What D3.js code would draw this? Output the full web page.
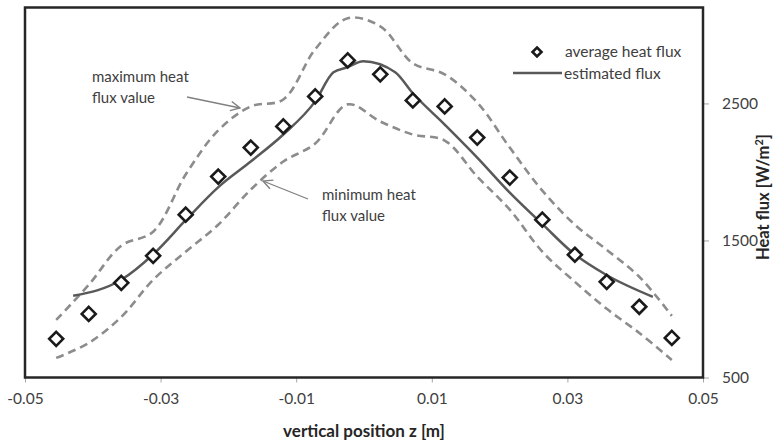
<!DOCTYPE html>
<html>
<head>
<meta charset="utf-8">
<script src="https://cdn.jsdelivr.net/npm/d3@7"></script>
<style>
  body { margin: 0; background: #fff; }
  text { font-family: Lato, "Open Sans", sans-serif; }
</style>
</head>
<body>
<div id="chart"></div>
<script>
// chart data
const positions = [-0.0454, -0.0406, -0.0358, -0.0311, -0.0263, -0.0215, -0.0167, -0.0119, -0.0072, -0.0024,
                   0.0024, 0.0072, 0.0119, 0.0167, 0.0215, 0.0263, 0.0311, 0.0358, 0.0406, 0.0454];
const avgFlux = [782, 964, 1191, 1388, 1688, 1966, 2178, 2332, 2551, 2814,
                 2712, 2522, 2478, 2251, 1959, 1652, 1396, 1198, 1016, 789];
const maxFlux = [920, 1176, 1462, 1564, 1981, 2303, 2478, 2529, 2895, 3122,
                 3063, 2793, 2712, 2507, 2178, 1864, 1615, 1432, 1235, 950];
const minFlux = [643, 752, 942, 1213, 1418, 1615, 1871, 2076, 2207, 2493,
                 2368, 2273, 2229, 1966, 1725, 1418, 1198, 1001, 825, 628];
const estPositions = [-0.0429, -0.0358, -0.0310, -0.0261, -0.0214, -0.0167, -0.0119, -0.0072, -0.0045, -0.0025,
                      -0.0001, 0.0046, 0.0071, 0.0119, 0.0167, 0.0215, 0.0264, 0.0308, 0.0357, 0.0426];
const estFlux = [1096, 1213, 1403, 1659, 1893, 2076, 2273, 2515, 2727, 2763,
                 2807, 2727, 2580, 2346, 2105, 1849, 1615, 1410, 1250, 1089];
const xTicks = [-0.05, -0.03, -0.01, 0.01, 0.03, 0.05];
const yTicks = [500, 1500, 2500];

const width = 775, height = 442;
const plot = {left: 25, right: 703, top: 7.5, bottom: 377.5};

let svg = d3.select("#chart")
    .append("svg")
    .attr("width", width)
    .attr("height", height);

let x = d3.scaleLinear().domain([-0.05, 0.05]).range([plot.left, plot.right]);
let y = d3.scaleLinear().domain([500, 3200]).range([plot.bottom, plot.top]);

// x axis ticks + labels
let xAxis = svg.append("g")
    .attr("transform", `translate(0,${plot.bottom})`)
    .call(d3.axisBottom(x).tickValues(xTicks).tickSize(5).tickFormat(d => d3.format(".2f")(d).replace("−", "-")));
xAxis.select(".domain").remove();
xAxis.selectAll("line").attr("stroke", "#a6a6a6");
xAxis.selectAll("text").attr("font-size", 15.5).attr("fill", "#404040").attr("dy", "1.2em");

// y axis on the right
let yAxis = svg.append("g")
    .attr("transform", `translate(${plot.right},0)`)
    .call(d3.axisRight(y).tickValues(yTicks).tickSize(6).tickPadding(13).tickFormat(d3.format("d")));
yAxis.select(".domain").remove();
yAxis.selectAll("line").attr("stroke", "#a6a6a6");
yAxis.selectAll("text").attr("font-size", 15.5).attr("fill", "#404040");

// frame
svg.append("rect")
    .attr("x", plot.left).attr("y", plot.top)
    .attr("width", plot.right - plot.left).attr("height", plot.bottom - plot.top)
    .attr("fill", "none").attr("stroke", "#262626").attr("stroke-width", 2.5);

// axis titles
svg.append("text")
    .attr("x", 364).attr("y", 437)
    .attr("text-anchor", "middle")
    .attr("font-size", 17).attr("font-weight", "bold").attr("fill", "#262626")
    .text("vertical position z [m]");

let yTitle = svg.append("text")
    .attr("transform", "translate(769,197) rotate(-90)")
    .attr("text-anchor", "middle")
    .attr("font-size", 16.5).attr("font-weight", "bold").attr("fill", "#262626");
yTitle.append("tspan").text("Heat flux [W/m");
yTitle.append("tspan").attr("baseline-shift", "super").attr("font-size", 11).text("2");
yTitle.append("tspan").text("]");

// dashed bounds
let smooth = d3.line()
    .x((d, i) => x(positions[i]))
    .y(d => y(d))
    .curve(d3.curveCatmullRom.alpha(0.5));

[maxFlux, minFlux].forEach(series => {
    svg.append("path")
        .attr("d", smooth(series))
        .attr("fill", "none")
        .attr("stroke", "#8c8c8c")
        .attr("stroke-width", 2.6)
        .attr("stroke-dasharray", "8,5");
});

// estimated flux
let estLine = d3.line()
    .x((d, i) => x(estPositions[i]))
    .y(d => y(d))
    .curve(d3.curveMonotoneX);

svg.append("path")
    .attr("d", estLine(estFlux))
    .attr("fill", "none")
    .attr("stroke", "#595959")
    .attr("stroke-width", 2.5);

// average markers
const diamond = r => `M0,${-r}L${r},0L0,${r}L${-r},0Z`;
svg.append("g")
    .selectAll("path")
    .data(avgFlux)
    .enter().append("path")
    .attr("transform", (d, i) => `translate(${x(positions[i])},${y(d)})`)
    .attr("d", diamond(7))
    .attr("fill", "white")
    .attr("stroke", "#1a1a1a")
    .attr("stroke-width", 2.6);

// legend
svg.append("path")
    .attr("transform", "translate(537,52)")
    .attr("d", diamond(4.5))
    .attr("fill", "white").attr("stroke", "#1a1a1a").attr("stroke-width", 2.6);
svg.append("text").attr("x", 565).attr("y", 57)
    .attr("font-size", 15.5).attr("fill", "#404040").text("average heat flux");
svg.append("line")
    .attr("x1", 513).attr("x2", 562).attr("y1", 73).attr("y2", 73)
    .attr("stroke", "#595959").attr("stroke-width", 2.5);
svg.append("text").attr("x", 564).attr("y", 79)
    .attr("font-size", 15.5).attr("fill", "#404040").text("estimated flux");

// annotations
svg.append("defs").append("marker")
    .attr("id", "arrow")
    .attr("viewBox", "0 0 10 10")
    .attr("refX", 9).attr("refY", 5)
    .attr("markerWidth", 9).attr("markerHeight", 9)
    .attr("orient", "auto")
    .append("path")
    .attr("d", "M1,1L9,5L1,9")
    .attr("fill", "none").attr("stroke", "#808080").attr("stroke-width", 1.2);

function note(lines, tx, ty, from, to) {
    let t = svg.append("text").attr("font-size", 15).attr("fill", "#404040");
    lines.forEach((s, i) => t.append("tspan").attr("x", tx).attr("y", ty + i * 21).text(s));
    svg.append("line")
        .attr("x1", from[0]).attr("y1", from[1]).attr("x2", to[0]).attr("y2", to[1])
        .attr("stroke", "#808080").attr("stroke-width", 1.3)
        .attr("marker-end", "url(#arrow)");
}

note(["maximum heat", "flux value"], 92, 82, [187, 97], [240, 108]);
note(["minimum heat", "flux value"], 322, 200, [308, 199], [263, 181]);
</script>
</body>
</html>
